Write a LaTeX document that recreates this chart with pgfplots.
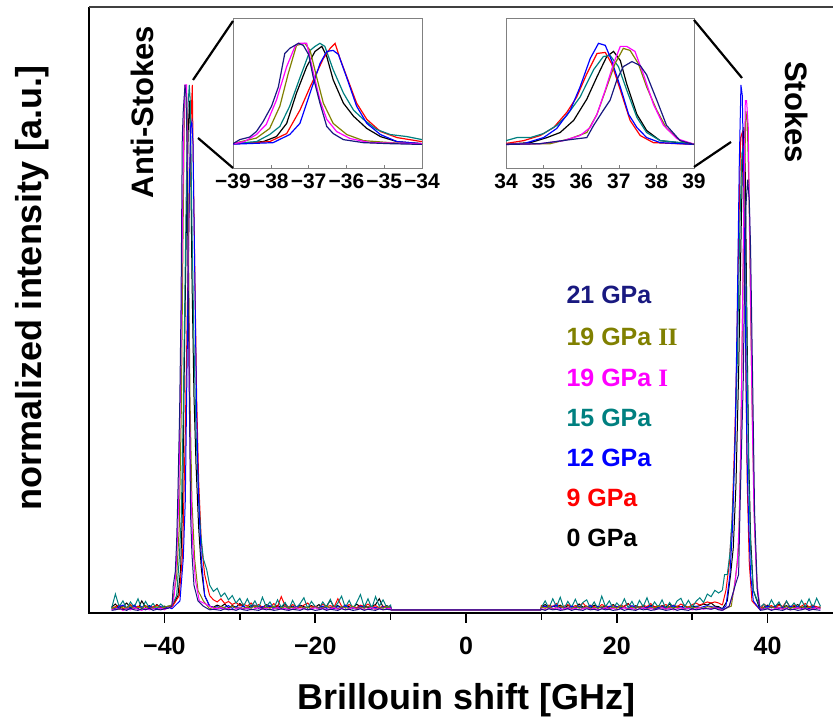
\documentclass[border=0pt]{standalone}
\usepackage{pgfplots}
\pgfplotsset{compat=1.18}
\usepackage{pgfplotstable}
\usepackage{fontspec}
\setmainfont{Liberation Sans}
\newfontfamily\rmser{Liberation Serif}
\definecolor{cK}{RGB}{0,0,0}
\definecolor{cR}{RGB}{255,0,0}
\definecolor{cB}{RGB}{0,0,255}
\definecolor{cT}{RGB}{0,128,128}
\definecolor{cM}{RGB}{255,0,255}
\definecolor{cO}{RGB}{128,128,0}
\definecolor{cN}{RGB}{25,25,128}

% baseline noise (intensity in units of 1/1000 of peak), columns: 0,9,12,15,19I,19II,21 GPa
\pgfplotstableread[row sep=\\]{
x k r b t m o n\\
-47 8 6 4 6 3 5 2\\
-46.5 14 9 6 33 4 8 3\\
-46 6 12 9 9 6 4 5\\
-45.5 10 5 12 20 2 9 4\\
-45 16 8 5 5 5 6 2\\
-44.5 7 13 8 18 3 11 6\\
-44 12 6 11 8 7 5 3\\
-43.5 5 10 6 24 4 8 2\\
-43 20 7 9 4 2 6 5\\
-42.5 8 11 4 19 6 10 3\\
-42 11 6 10 7 3 5 6\\
-41.5 6 9 7 15 5 7 2\\
-41 13 12 5 5 4 9 4\\
-40.5 7 8 9 14 6 6 3\\
-40 10 6 6 8 3 8 5\\
-39.5 8 9 8 10 7 10 6\\
-39 9 8 5 12 9 12 10\\
-36.5 nan nan nan nan nan nan nan\\
-34 10 30 10 50 10 5 3\\
-33.5 8 22 7 38 6 8 4\\
-33 12 18 9 44 5 6 3\\
-32.5 9 24 6 28 7 9 2\\
-32 14 15 8 35 4 7 5\\
-31.5 7 19 11 22 6 5 3\\
-31 11 13 6 30 3 10 4\\
-30.5 8 17 9 16 5 6 2\\
-30 15 11 7 25 7 8 5\\
-29.5 9 14 10 10 4 5 3\\
-29 6 10 5 24 6 9 2\\
-28.5 12 16 8 8 3 6 4\\
-28 8 9 12 20 5 11 3\\
-27.5 10 13 6 6 7 7 2\\
-27 7 8 9 27 4 5 5\\
-26.5 13 12 7 9 6 8 3\\
-26 9 7 11 18 3 6 4\\
-25.5 6 15 5 5 5 10 2\\
-25 11 9 8 22 7 5 3\\
-24.5 8 28 6 8 4 7 5\\
-24 14 11 10 17 6 9 3\\
-23.5 7 8 5 4 3 6 2\\
-23 10 13 9 21 5 8 4\\
-22.5 6 9 7 7 7 5 3\\
-22 12 7 11 15 4 10 2\\
-21.5 9 12 6 26 6 6 5\\
-21 7 16 8 6 3 8 3\\
-20.5 11 8 5 19 5 5 4\\
-20 8 10 9 9 7 9 2\\
-19.5 13 7 7 5 4 6 3\\
-19 6 14 10 18 6 7 5\\
-18.5 10 9 6 8 3 10 2\\
-18 21 11 8 23 5 6 4\\
-17.5 8 8 5 6 7 8 3\\
-17 11 24 9 16 4 5 2\\
-16.5 7 10 7 29 6 9 5\\
-16 12 8 11 7 3 7 3\\
-15.5 9 13 6 21 5 6 4\\
-15 6 9 8 5 7 10 2\\
-14.5 14 7 5 17 4 5 3\\
-14 8 12 10 32 6 8 5\\
-13.5 11 9 7 8 3 6 2\\
-13 7 14 9 24 5 9 4\\
-12.5 10 8 6 6 7 7 3\\
-12 13 11 8 28 4 5 2\\
-11.5 24 7 5 10 6 8 5\\
-11 8 10 9 22 3 6 3\\
-10.5 11 8 6 7 5 9 4\\
-10 7 9 8 12 6 6 3\\
-9.9 3 3 3 3 3 3 3\\
9.9 3 3 3 3 3 3 3\\
10 9 11 7 8 5 8 4\\
10.5 13 8 10 20 3 6 2\\
11 7 12 6 6 6 9 5\\
11.5 10 9 9 24 4 5 3\\
12 8 15 12 9 7 7 4\\
12.5 12 7 6 27 3 10 2\\
13 6 10 8 5 5 6 3\\
13.5 11 13 5 19 7 8 5\\
14 9 8 10 8 4 5 2\\
14.5 7 11 7 23 6 9 4\\
15 14 9 9 6 3 7 3\\
15.5 8 16 6 17 5 6 2\\
16 10 8 8 22 7 10 5\\
16.5 6 12 11 7 4 5 3\\
17 12 9 6 18 6 8 4\\
17.5 9 7 9 5 3 6 2\\
18 7 13 7 29 5 9 5\\
18.5 11 10 5 9 7 7 3\\
19 8 8 10 20 4 5 4\\
19.5 13 11 7 6 6 8 2\\
20 9 7 9 16 3 6 3\\
20.5 6 12 6 8 5 10 5\\
21 10 9 8 24 7 7 2\\
21.5 15 14 5 7 4 5 4\\
22 7 8 11 19 6 8 3\\
22.5 11 10 7 5 3 6 2\\
23 8 7 9 21 5 9 5\\
23.5 10 12 6 9 7 7 3\\
24 6 9 8 26 4 5 4\\
24.5 12 15 10 6 6 8 2\\
25 9 8 5 18 3 6 3\\
25.5 7 11 7 8 5 10 5\\
26 11 9 9 22 7 7 4\\
26.5 8 13 6 5 4 5 2\\
27 14 8 8 17 6 9 3\\
27.5 7 12 11 7 3 6 5\\
28 10 9 7 20 5 8 2\\
28.5 8 14 9 25 7 7 4\\
29 12 10 6 9 4 5 3\\
29.5 6 8 8 21 6 9 2\\
30 10 13 5 8 3 6 5\\
30.5 9 16 10 19 5 8 3\\
31 11 12 7 26 7 7 4\\
31.5 14 15 9 17 4 6 6\\
32 12 18 11 33 6 9 5\\
32.5 16 16 9 28 5 8 4\\
33 10 18 8 40 7 7 6\\
33.5 9 16 7 35 5 6 3\\
34 5 12 5 40 2 3 2\\
36.5 nan nan nan nan nan nan nan\\
39 3 3 3 8 5 5 2\\
39.5 8 14 6 14 4 7 3\\
40 12 9 10 6 6 5 5\\
40.5 7 11 7 22 3 9 2\\
41 10 7 9 9 5 6 4\\
41.5 14 12 5 18 7 8 3\\
42 8 9 8 5 4 5 2\\
42.5 11 19 6 20 6 10 5\\
43 6 8 10 7 3 6 3\\
43.5 9 12 7 16 5 8 4\\
44 13 7 9 6 7 5 2\\
44.5 7 10 6 21 4 9 3\\
45 10 15 8 8 6 6 5\\
45.5 8 8 5 24 3 8 2\\
46 12 11 9 6 5 5 4\\
46.5 6 9 7 25 7 7 3\\
47 9 7 6 10 4 6 2\\
}\noise

% anti-Stokes peaks
\pgfplotstableread[row sep=\\]{x y\\ -39 10\\ -38.82 50\\ -38.56 75\\ -38.38 130\\ -38.2 230\\ -37.98 380\\ -37.8 570\\ -37.63 900\\ -37.5 950\\ -37.27 1000\\ -37.14 980\\ -37.0 890\\ -36.88 670\\ -36.7 410\\ -36.52 180\\ -36.35 110\\ -36.08 50\\ -35.55 20\\ -34.84 10\\ -34 3\\}\asN
\pgfplotstableread[row sep=\\]{x y\\ -39 9\\ -38.7 30\\ -38.38 100\\ -38.12 200\\ -37.85 440\\ -37.58 770\\ -37.36 970\\ -37.27 1000\\ -37.05 1000\\ -36.88 720\\ -36.7 440\\ -36.52 250\\ -36.26 130\\ -35.9 60\\ -35.37 20\\ -34 10\\}\asM
\pgfplotstableread[row sep=\\]{x y\\ -39 12\\ -38.38 65\\ -38.03 160\\ -37.76 380\\ -37.54 700\\ -37.32 980\\ -37.1 1000\\ -36.96 930\\ -36.79 670\\ -36.61 410\\ -36.35 210\\ -35.99 100\\ -35.55 40\\ -34.84 20\\ -34 5\\}\asO
\pgfplotstableread[row sep=\\]{x y\\ -39 12\\ -38.38 30\\ -38.03 100\\ -37.76 180\\ -37.5 380\\ -37.23 660\\ -36.96 930\\ -36.83 970\\ -36.7 1000\\ -36.57 970\\ -36.35 740\\ -36.08 510\\ -35.81 340\\ -35.55 250\\ -35.2 150\\ -34.84 100\\ -34.4 80\\ -34 50\\}\asT
\pgfplotstableread[row sep=\\]{x y\\ -39 9\\ -38.2 30\\ -37.85 80\\ -37.58 210\\ -37.32 510\\ -37.05 770\\ -36.83 920\\ -36.65 970\\ -36.52 870\\ -36.35 640\\ -36.08 410\\ -35.81 280\\ -35.46 160\\ -35.1 80\\ -34.66 30\\ -34 10\\}\asK
\pgfplotstableread[row sep=\\]{x y\\ -39 8\\ -38.03 30\\ -37.58 110\\ -37.23 340\\ -36.96 570\\ -36.61 850\\ -36.43 950\\ -36.3 1000\\ -36.17 850\\ -35.99 670\\ -35.73 410\\ -35.46 250\\ -35.1 130\\ -34.66 70\\ -34 30\\}\asR
\pgfplotstableread[row sep=\\]{x y\\ -39 5\\ -37.94 20\\ -37.5 100\\ -37.23 210\\ -36.96 510\\ -36.7 800\\ -36.52 920\\ -36.35 930\\ -36.21 890\\ -35.99 660\\ -35.73 380\\ -35.46 210\\ -35.1 100\\ -34.66 30\\ -34 10\\}\asB

% Stokes peaks
\pgfplotstableread[row sep=\\]{x y\\ 34 5\\ 34.47 10\\ 35.0 70\\ 35.35 160\\ 35.71 340\\ 35.97 570\\ 36.24 850\\ 36.46 1000\\ 36.64 980\\ 36.81 830\\ 37.04 570\\ 37.26 300\\ 37.48 170\\ 37.74 70\\ 38.1 20\\ 39 3\\}\sB
\pgfplotstableread[row sep=\\]{x y\\ 34 12\\ 34.47 40\\ 34.91 90\\ 35.27 170\\ 35.62 320\\ 35.88 470\\ 36.15 700\\ 36.42 900\\ 36.64 910\\ 36.81 800\\ 37.04 540\\ 37.3 240\\ 37.57 90\\ 37.92 20\\ 39 3\\}\sR
\pgfplotstableread[row sep=\\]{x y\\ 34 40\\ 34.29 70\\ 34.65 70\\ 35.0 110\\ 35.35 190\\ 35.62 290\\ 35.97 470\\ 36.33 740\\ 36.59 870\\ 36.77 880\\ 36.99 770\\ 37.21 540\\ 37.48 270\\ 37.74 120\\ 38.1 40\\ 39 8\\}\sT
\pgfplotstableread[row sep=\\]{x y\\ 34 5\\ 34.65 20\\ 35.09 70\\ 35.44 120\\ 35.8 240\\ 36.15 450\\ 36.42 670\\ 36.68 870\\ 36.86 920\\ 37.04 830\\ 37.21 600\\ 37.48 300\\ 37.74 140\\ 38.1 40\\ 39 3\\}\sK
\pgfplotstableread[row sep=\\]{x y\\ 34 2\\ 34.91 10\\ 35.53 40\\ 35.97 90\\ 36.24 170\\ 36.42 300\\ 36.64 540\\ 36.86 800\\ 37.04 970\\ 37.21 970\\ 37.43 920\\ 37.65 700\\ 37.92 400\\ 38.19 190\\ 38.54 60\\ 39 5\\}\sM
\pgfplotstableread[row sep=\\]{x y\\ 34 3\\ 35.18 10\\ 35.71 60\\ 36.15 120\\ 36.42 300\\ 36.68 570\\ 36.9 800\\ 37.12 950\\ 37.3 930\\ 37.52 800\\ 37.74 570\\ 38.01 340\\ 38.27 160\\ 38.63 40\\ 39 5\\}\sO
\pgfplotstableread[row sep=\\]{x y\\ 34 2\\ 34.91 10\\ 35.71 50\\ 36.15 70\\ 36.33 190\\ 36.59 340\\ 36.77 440\\ 36.95 640\\ 37.12 770\\ 37.35 820\\ 37.57 780\\ 37.74 690\\ 38.01 440\\ 38.27 190\\ 38.63 40\\ 39 2\\}\sN

\newcommand{\drawseries}[4]{%
  \addplot[#1, line width=1pt, forget plot] table[x=x, y=#2] {\noise};
  \addplot[#1, line width=1pt, forget plot] table {#3};
  \addplot[#1, line width=1pt, forget plot] table {#4};
}
\newcommand{\inset}[2]{%
  \addplot[#1, line width=1.2pt, forget plot] table {#2};
}

\begin{document}
\begin{tikzpicture}
\path[use as bounding box] (0,0) rectangle (833pt,722pt);
\begin{axis}[
  at={(89pt,109pt)}, anchor=south west,
  scale only axis, width=744pt, height=606pt,
  xmin=-50, xmax=48.67, ymin=-3, ymax=1148,
  axis line style={draw=none},
  xtick={-40,-20,0,20,40}, xticklabels={−40,−20,0,20,40},
  minor xtick={-30,-10,10,30},
  ytick=\empty,
  xtick pos=left, tick align=outside,
  major tick length=10pt, minor tick length=7pt,
  every tick/.style={black, line width=1.6pt},
  xticklabel style={font=\fontsize{25}{25}\selectfont\bfseries, yshift=-11pt},
  unbounded coords=jump,
]
\drawseries{cK}{k}{\asK}{\sK}
\drawseries{cR}{r}{\asR}{\sR}
\drawseries{cT}{t}{\asT}{\sT}
\drawseries{cB}{b}{\asB}{\sB}
\drawseries{cO}{o}{\asO}{\sO}
\drawseries{cM}{m}{\asM}{\sM}
\drawseries{cN}{n}{\asN}{\sN}
\end{axis}
% frame: left, bottom, top (right edge lies at the border of the picture)
\draw[line width=1.6pt] (89pt,715pt) -- (89pt,109pt) -- (833pt,109pt);
\draw[line width=1.6pt, black!75] (89pt,715pt) -- (833pt,715pt);

% inset anti-Stokes
\begin{axis}[
  at={(233pt,554pt)}, anchor=south west,
  scale only axis, width=189pt, height=150pt,
  xmin=-39, xmax=-34, ymin=-230, ymax=1250,
  axis line style={gray, line width=0.8pt},
  axis background/.style={fill=white},
  xtick={-39,-38,-37,-36,-35,-34}, xticklabels={−39,−38,−37,−36,−35,−34},
  ytick=\empty, xtick pos=left, tick align=inside, major tick length=3pt,
  every tick/.style={gray, line width=0.6pt},
  xticklabel style={font=\fontsize{21}{21}\selectfont\bfseries, yshift=-2pt},
]
\inset{cK}{\asK}
\inset{cR}{\asR}
\inset{cT}{\asT}
\inset{cB}{\asB}
\inset{cO}{\asO}
\inset{cM}{\asM}
\inset{cN}{\asN}
\end{axis}

% inset Stokes
\begin{axis}[
  at={(506pt,554pt)}, anchor=south west,
  scale only axis, width=188pt, height=150pt,
  xmin=34, xmax=39, ymin=-230, ymax=1250,
  axis line style={gray, line width=0.8pt},
  axis background/.style={fill=white},
  xtick={34,35,36,37,38,39},
  ytick=\empty, xtick pos=left, tick align=inside, major tick length=3pt,
  every tick/.style={gray, line width=0.6pt},
  xticklabel style={font=\fontsize{21}{21}\selectfont\bfseries, yshift=-2pt},
  /pgf/number format/assume math mode=true,
]
\inset{cK}{\sK}
\inset{cR}{\sR}
\inset{cT}{\sT}
\inset{cB}{\sB}
\inset{cO}{\sO}
\inset{cM}{\sM}
\inset{cN}{\sN}
\end{axis}

% connector lines
\draw[line width=2.2pt] (233pt,701pt) -- (193pt,642pt);
\draw[line width=2.2pt] (233pt,554pt) -- (198pt,584pt);
\draw[line width=2.2pt] (694pt,702pt) -- (742pt,644pt);
\draw[line width=2.2pt] (694pt,555pt) -- (731pt,580pt);

% texts
\node[rotate=90, font=\fontsize{31}{31}\selectfont\bfseries] at (142pt,610pt) {Anti-Stokes};
\node[rotate=-90, font=\fontsize{31}{31}\selectfont\bfseries] at (797pt,610pt) {Stokes};
\node[rotate=90, font=\fontsize{36}{36}\selectfont\bfseries] at (32pt,434pt) {normalized intensity [a.u.]};
\node[anchor=base, font=\fontsize{36}{36}\selectfont\bfseries] at (466pt,12pt) {Brillouin shift [GHz]};

\begin{scope}[every node/.style={anchor=west, font=\fontsize{25}{25}\selectfont\bfseries}]
\node[text=cN] at (563pt,427pt) {21 GPa};
\node[text=cO] at (563pt,385pt) {19 GPa {\rmser II}};
\node[text=cM] at (563pt,344pt) {19 GPa {\rmser I}};
\node[text=cT] at (563pt,304pt) {15 GPa};
\node[text=cB] at (563pt,264pt) {12 GPa};
\node[text=cR] at (563pt,224pt) {9 GPa};
\node[text=cK] at (563pt,184pt) {0 GPa};
\end{scope}
\end{tikzpicture}
\end{document}
